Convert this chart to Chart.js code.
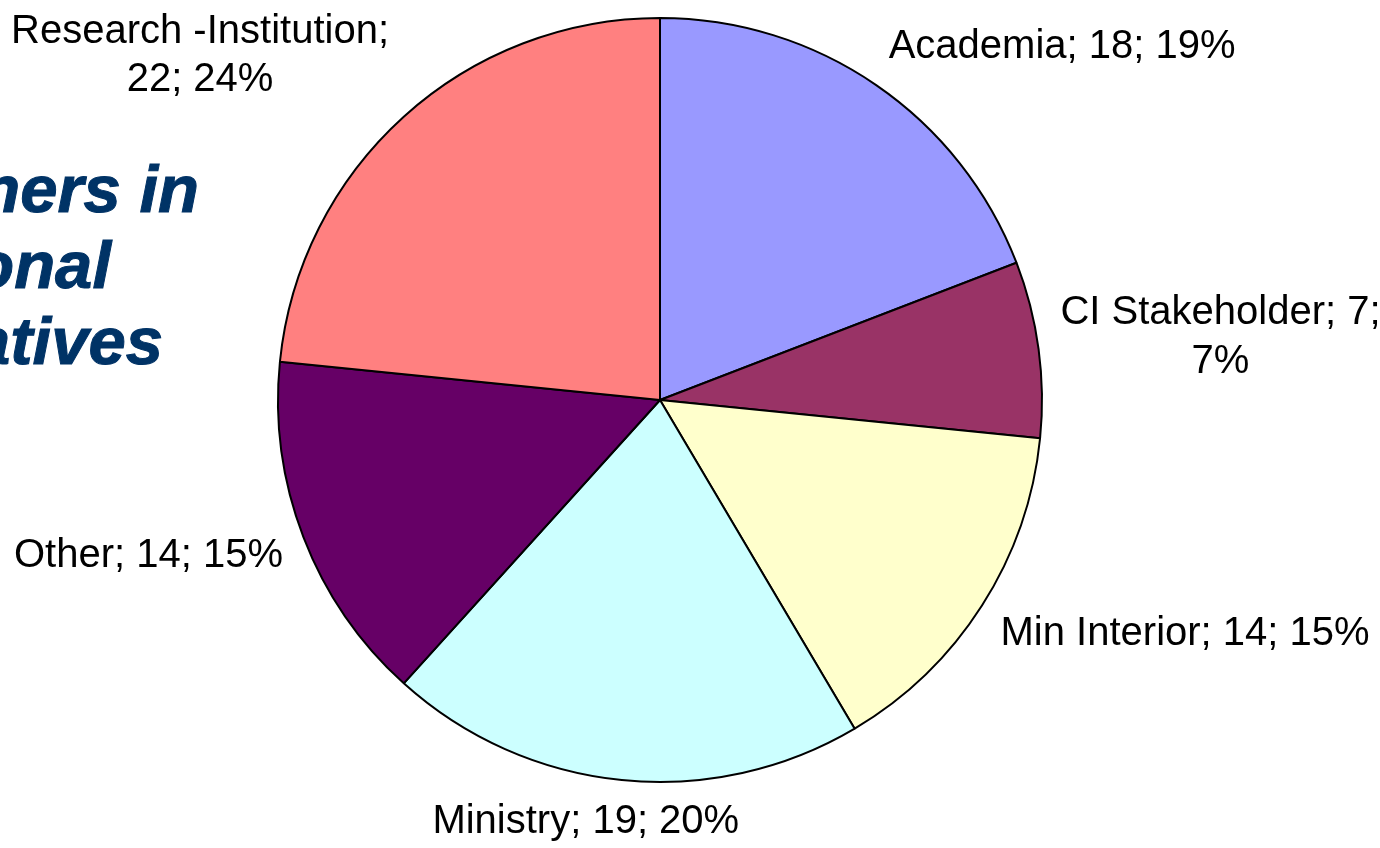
<!DOCTYPE html>
<html>
<head>
<meta charset="utf-8">
<script src="https://cdn.jsdelivr.net/npm/chart.js@4/dist/chart.umd.min.js"></script>
<style>
    html, body { margin: 0; padding: 0; background: #ffffff; overflow: hidden; }
    canvas { display: block; }
</style>
</head>
<body>
<canvas id="pie" width="1380" height="848"></canvas>
<script>
const categories = ['Academia', 'CI Stakeholder', 'Min Interior', 'Ministry', 'Other', 'Research -Institution'];
const counts = [18, 7, 14, 19, 14, 22];
const percents = ['19%', '7%', '15%', '20%', '15%', '24%'];
// label text as shown, with Excel's line breaks
const labelTexts = [
    'Academia; 18; 19%',
    'CI Stakeholder; 7;\n7%',
    'Min Interior; 14; 15%',
    'Ministry; 19; 20%',
    'Other; 14; 15%',
    'Research -Institution;\n22; 24%'
];
const sliceColors = ['#9999FF', '#993366', '#FFFFCC', '#CCFFFF', '#660066', '#FF8080'];
const backTitle = ['Partners in', 'National', 'Initiatives'];

const LABEL_FONT = '40px "Liberation Sans", Arial, sans-serif';
const LINE_H = 48.5;

// slide title text peeking in from behind the chart, cut by the left edge
const backTitlePlugin = {
    id: 'backTitle',
    beforeDraw(chart) {
        const ctx = chart.ctx;
        const rightEdges = [199, 111, 163];
        ctx.save();
        ctx.font = 'bold italic 67px "Liberation Sans", Arial, sans-serif';
        ctx.fillStyle = '#003366';
        ctx.strokeStyle = '#003366';
        ctx.lineWidth = 1;
        ctx.textAlign = 'right';
        ctx.textBaseline = 'alphabetic';
        backTitle.forEach((line, i) => {
            ctx.fillText(line, rightEdges[i], 212 + i * 76);
            ctx.strokeText(line, rightEdges[i], 212 + i * 76);
        });
        ctx.restore();
    }
};

const clamp = (v) => Math.max(-1, Math.min(1, v));

// outside-end labels, placed from each arc's mid angle
const sliceLabels = {
    id: 'sliceLabels',
    afterDatasetsDraw(chart) {
        const ctx = chart.ctx;
        const arcs = chart.getDatasetMeta(0).data;
        ctx.save();
        ctx.font = LABEL_FONT;
        ctx.fillStyle = '#000000';
        ctx.textAlign = 'center';
        ctx.textBaseline = 'middle';
        arcs.forEach((arc, i) => {
            const p = arc.getProps(['x', 'y', 'startAngle', 'endAngle', 'outerRadius'], true);
            const mid = (p.startAngle + p.endAngle) / 2;
            const r = p.outerRadius + 22;
            const ax = p.x + Math.cos(mid) * r;
            const ay = p.y + Math.sin(mid) * r;
            const lines = labelTexts[i].split('\n');
            const w = Math.max(...lines.map(l => ctx.measureText(l).width));
            const h = (lines.length - 1) * LINE_H + 40;
            const cx = ax + w / 2 * clamp(2.2 * Math.cos(mid));
            const cy = ay + h / 2 * clamp(1.5 * Math.sin(mid));
            const top = cy - h / 2 + 20;
            lines.forEach((l, k) => ctx.fillText(l, cx, top + k * LINE_H));
        });
        ctx.restore();
    }
};

new Chart(document.getElementById('pie'), {
    type: 'pie',
    data: {
        labels: categories,
        datasets: [{
            data: counts,
            backgroundColor: sliceColors,
            borderColor: '#000000',
            borderWidth: 2
        }]
    },
    options: {
        responsive: false,
        animation: false,
        events: [],
        layout: { padding: { top: 17, bottom: 65, left: 277, right: 337 } },
        plugins: {
            legend: { display: false },
            tooltip: { enabled: false }
        }
    },
    plugins: [backTitlePlugin, sliceLabels]
});
</script>
</body>
</html>
